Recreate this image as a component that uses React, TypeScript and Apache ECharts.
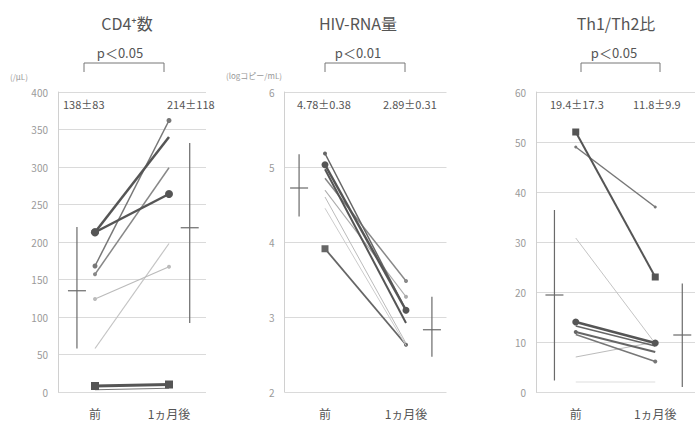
import React, { useEffect, useRef } from "react";
import * as echarts from "echarts";

// ---- data ----
const timepoints = ["前", "1ヵ月後"];

const cd4Pre = [213, 213, 168, 157, 124, 58, 8, 3];
const cd4Post = [340, 264, 362, 299, 167, 198, 10, 5];
const cd4Bars = [
  [58, 135, 220],
  [92, 219, 332],
];
const cd4Stats = ["138±83", "214±118"];

const rnaPre = [5.18, 5.03, 4.97, 4.85, 4.69, 4.6, 4.45, 3.91];
const rnaPost = [3.09, 3.09, 2.92, 3.48, 3.27, 2.65, 2.62, 2.63];
const rnaBars = [
  [4.34, 4.72, 5.17],
  [2.47, 2.83, 3.27],
];
const rnaStats = ["4.78±0.38", "2.89±0.31"];

const thPre = [52, 49, 30.8, 14, 13.2, 12, 11.5, 7, 2];
const thPost = [23, 37, 9.7, 9.8, 9.2, 8, 6.1, 10, 2];
const thBars = [
  [2.3, 19.4, 36.4],
  [1, 11.4, 21.7],
];
const thStats = ["19.4±17.3", "11.8±9.9"];

const titles = ["CD4⁺数", "HIV-RNA量", "Th1/Th2比"];
const pValues = ["p＜0.05", "p＜0.01", "p＜0.05"];
const units = ["(/μL)", "(logコピー/mL)", ""];

// ---- styles (not data) ----
type Sty = { c: string; w: number; s0: string; s1: string; z0: number; z1: number };
const cd4Styles: Sty[] = [
  { c: "#555", w: 2.5, s0: "circle", s1: "none", z0: 8, z1: 0 },
  { c: "#555", w: 2.5, s0: "circle", s1: "circle", z0: 8, z1: 8 },
  { c: "#777", w: 1.5, s0: "circle", s1: "circle", z0: 5, z1: 5 },
  { c: "#888", w: 1.5, s0: "circle", s1: "none", z0: 4, z1: 0 },
  { c: "#bbb", w: 1.2, s0: "circle", s1: "circle", z0: 4, z1: 4 },
  { c: "#c4c4c4", w: 1.2, s0: "none", s1: "none", z0: 0, z1: 0 },
  { c: "#555", w: 3, s0: "rect", s1: "rect", z0: 8, z1: 8 },
  { c: "#777", w: 1.2, s0: "none", s1: "none", z0: 0, z1: 0 },
];
const rnaStyles: Sty[] = [
  { c: "#666", w: 1.5, s0: "circle", s1: "none", z0: 4, z1: 0 },
  { c: "#555", w: 2.5, s0: "circle", s1: "circle", z0: 7, z1: 7 },
  { c: "#555", w: 2, s0: "none", s1: "none", z0: 0, z1: 0 },
  { c: "#888", w: 1.5, s0: "none", s1: "circle", z0: 0, z1: 4 },
  { c: "#aaa", w: 1.2, s0: "none", s1: "circle", z0: 0, z1: 4 },
  { c: "#bbb", w: 1, s0: "none", s1: "none", z0: 0, z1: 0 },
  { c: "#ccc", w: 1, s0: "none", s1: "none", z0: 0, z1: 0 },
  { c: "#666", w: 1.8, s0: "rect", s1: "circle", z0: 7, z1: 4 },
];
const thStyles: Sty[] = [
  { c: "#555", w: 2, s0: "rect", s1: "rect", z0: 7, z1: 7 },
  { c: "#777", w: 1.5, s0: "circle", s1: "circle", z0: 3, z1: 3 },
  { c: "#c4c4c4", w: 1, s0: "none", s1: "none", z0: 0, z1: 0 },
  { c: "#555", w: 2.5, s0: "circle", s1: "circle", z0: 7, z1: 7 },
  { c: "#666", w: 1.5, s0: "none", s1: "none", z0: 0, z1: 0 },
  { c: "#666", w: 2, s0: "circle", s1: "none", z0: 4, z1: 0 },
  { c: "#777", w: 1.5, s0: "none", s1: "circle", z0: 0, z1: 4 },
  { c: "#bbb", w: 1, s0: "none", s1: "none", z0: 0, z1: 0 },
  { c: "#ddd", w: 1, s0: "none", s1: "none", z0: 0, z1: 0 },
];

// ---- layout ----
const PRE_X = 2.5;
const POST_X = 7.5;
const panels = [
  { left: 58, width: 148, min: 0, max: 400, interval: 50, sdX: [1.28, 8.9] },
  { left: 284.5, width: 162, min: 2, max: 6, interval: 1, sdX: [0.9, 9.1] },
  { left: 536, width: 164, min: 0, max: 60, interval: 10, sdX: [1.16, 9.2] },
];
const FONT = "'Noto Sans CJK JP', 'Noto Sans', sans-serif";

function buildOption() {
  const pre = [cd4Pre, rnaPre, thPre];
  const post = [cd4Post, rnaPost, thPost];
  const bars = [cd4Bars, rnaBars, thBars];
  const styles = [cd4Styles, rnaStyles, thStyles];
  const series: any[] = [];

  panels.forEach((p, i) => {
    pre[i].forEach((v, k) => {
      const st = styles[i][k];
      series.push({
        type: "line",
        xAxisIndex: i,
        yAxisIndex: i,
        silent: true,
        lineStyle: { color: st.c, width: st.w },
        itemStyle: { color: st.c },
        z: 10 - k * 0.1 + (st.w > 2 ? 1 : 0),
        data: [
          { value: [PRE_X, v], symbol: st.s0, symbolSize: st.z0 },
          { value: [POST_X, post[i][k]], symbol: st.s1, symbolSize: st.z1 },
        ],
      });
    });
    series.push({
      type: "custom",
      xAxisIndex: i,
      yAxisIndex: i,
      silent: true,
      encode: { x: 0, y: [1, 2, 3] },
      data: bars[i].map((b, j) => [p.sdX[j], b[0], b[1], b[2]]),
      renderItem: (params: any, api: any) => {
        const x = api.value(0);
        const top = api.coord([x, api.value(3)]);
        const bot = api.coord([x, api.value(1)]);
        const mid = api.coord([x, api.value(2)]);
        const style = { stroke: "#6a6a6a", lineWidth: 1.2 };
        return {
          type: "group",
          children: [
            { type: "line", shape: { x1: top[0], y1: top[1], x2: bot[0], y2: bot[1] }, style },
            { type: "line", shape: { x1: mid[0] - 9, y1: mid[1], x2: mid[0] + 9, y2: mid[1] }, style },
          ],
        };
      },
    });
  });

  const grid = panels.map((p) => ({ left: p.left, width: p.width, top: 92, height: 300 }));
  const xAxis = panels.map((p, i) => ({
    type: "value",
    gridIndex: i,
    min: 0,
    max: 10,
    interval: 2.5,
    axisLine: { show: false },
    axisTick: { show: false },
    splitLine: { show: false },
    axisLabel: {
      margin: 14,
      color: "#555",
      fontSize: 12,
      lineHeight: 14,
      fontFamily: FONT,
      formatter: (v: number) => (v === PRE_X ? timepoints[0] : v === POST_X ? timepoints[1] : ""),
    },
  }));
  const yAxis = panels.map((p, i) => ({
    type: "value",
    gridIndex: i,
    min: p.min,
    max: p.max,
    interval: p.interval,
    axisLine: { show: true, lineStyle: { color: "#d0d0d0", width: 1 } },
    axisTick: { show: false },
    splitLine: { show: true, lineStyle: { color: "#dadada", width: 1 } },
    axisLabel: { margin: 10, color: "#9a9a9a", fontSize: 10, fontFamily: FONT },
  }));

  const graphic: any[] = [];
  const titleX = [127, 358, 616];
  const pX = [120, 358, 614];
  const brackets = [
    [84, 164],
    [325, 405],
    [581, 660],
  ];
  const statX = [
    [63, 167],
    [297, 383],
    [550, 633],
  ];
  const stats = [cd4Stats, rnaStats, thStats];
  titles.forEach((t, i) => {
    graphic.push({
      type: "text",
      x: titleX[i],
      y: 23,
      style: { text: t, fill: "#555", font: `16px ${FONT}`, textAlign: "center", textVerticalAlign: "middle" },
    });
    graphic.push({
      type: "text",
      x: pX[i],
      y: 52,
      style: { text: pValues[i], fill: "#555", font: `13px ${FONT}`, textAlign: "center", textVerticalAlign: "middle" },
    });
    const [bx1, bx2] = brackets[i];
    graphic.push({
      type: "polyline",
      shape: { points: [[bx1, 72], [bx1, 63], [bx2, 63], [bx2, 72]] },
      style: { stroke: "#777", lineWidth: 1, fill: null },
    });
    stats[i].forEach((s, j) => {
      graphic.push({
        type: "text",
        x: statX[i][j],
        y: 104,
        style: { text: s, fill: "#555", font: `11px ${FONT}`, textAlign: "left", textVerticalAlign: "middle" },
      });
    });
  });
  graphic.push({
    type: "text",
    x: 10,
    y: 76,
    style: { text: units[0], fill: "#999", font: `8px ${FONT}`, textAlign: "left", textVerticalAlign: "middle" },
  });
  graphic.push({
    type: "text",
    x: 226,
    y: 75,
    style: { text: units[1], fill: "#999", font: `8px ${FONT}`, textAlign: "left", textVerticalAlign: "middle" },
  });

  return {
    animation: false,
    backgroundColor: "#ffffff",
    grid,
    xAxis,
    yAxis,
    series,
    graphic,
  };
}

export default function App() {
  const ref = useRef<HTMLDivElement>(null);
  useEffect(() => {
    document.body.style.margin = "0";
    if (!ref.current) return;
    const chart = echarts.init(ref.current, null, { renderer: "svg" });
    chart.setOption(buildOption() as any);
    return () => chart.dispose();
  }, []);
  return <div ref={ref} style={{ width: 698, height: 424 }} />;
}
